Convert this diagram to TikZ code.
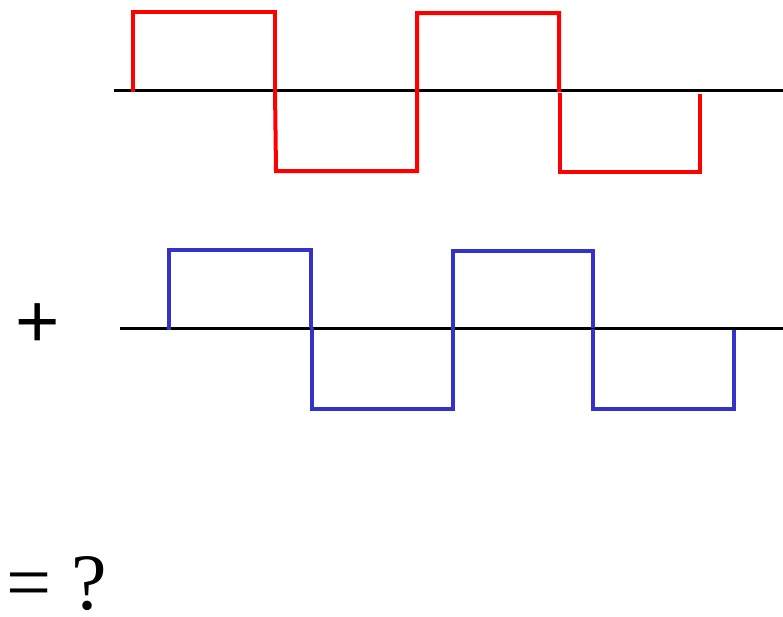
\documentclass[tikz,border=0pt]{standalone}
\usepackage{fontspec}
\newfontfamily\sansf{Liberation Sans}
\newfontfamily\seriff{Liberation Serif}
\definecolor{wavered}{RGB}{255,0,0}
\definecolor{waveblue}{RGB}{51,51,204}
\begin{document}
\begin{tikzpicture}[x=1pt,y=-1pt,
  axis/.style={black,line width=3pt},
  wave/.style={line width=4pt,line join=miter}]
\useasboundingbox (0,0) rectangle (783,616);
% red wave
\draw[axis] (114,90) -- (783,90);
\draw[wave,wavered] (133,92) -- (133,12) -- (275,12) -- (275,90);
\draw[wave,wavered] (275,90) -- (276,171) -- (417,171) -- (417,13) -- (559,13) -- (559,92);
\draw[wave,wavered] (560,93) -- (560,172) -- (700,172) -- (700,94);
% blue wave
\draw[axis] (120,328) -- (783,328);
\draw[wave,waveblue] (169,330) -- (169,250) -- (311,250) -- (311,328);
\draw[wave,waveblue] (312,328) -- (312,409) -- (453,409) -- (453,251) -- (593,251) -- (593,328);
\draw[wave,waveblue] (593,329) -- (593,409) -- (734,409) -- (734,330);
% text
\node[font=\sansf\fontsize{76}{76}\selectfont,inner sep=0pt] (plus) at (38,326) {+};
\node[font=\seriff\fontsize{80}{80}\selectfont,inner sep=0pt,anchor=base west] (eq) at (6,609) {=\hspace{20pt}?};
\end{tikzpicture}
\end{document}
